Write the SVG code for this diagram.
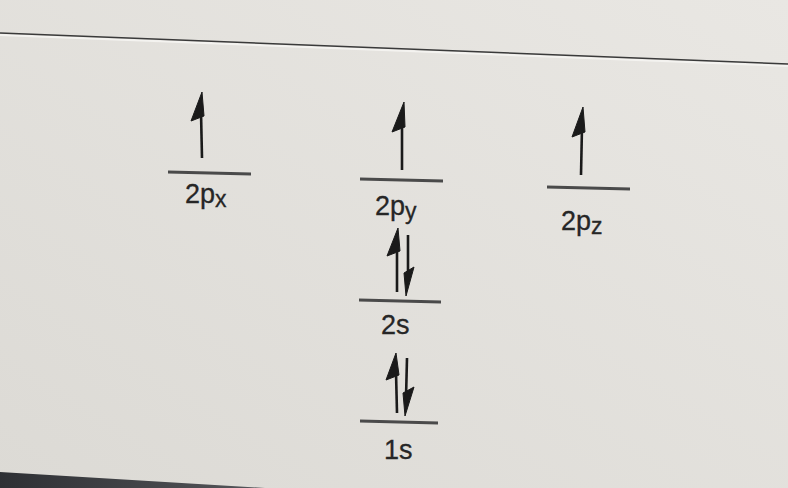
<svg xmlns="http://www.w3.org/2000/svg" width="788" height="488" viewBox="0 0 788 488">
  <defs>
    <linearGradient id="bg" x1="0" y1="1" x2="1" y2="0">
      <stop offset="0" stop-color="#dcdad5"/>
      <stop offset="1" stop-color="#e9e7e3"/>
    </linearGradient>
    <linearGradient id="bezel" x1="0" y1="0" x2="1" y2="0">
      <stop offset="0" stop-color="#2e3034"/>
      <stop offset="1" stop-color="#55565a"/>
    </linearGradient>
  </defs>
  <style>
    .level { stroke: #4a4a4a; stroke-width: 3; fill: none; stroke-linecap: butt; }
    .shaft { stroke: #1a1a1a; stroke-width: 2.6; fill: none; }
    .head { fill: #1a1a1a; stroke: #1a1a1a; stroke-width: 1; stroke-linejoin: round; }
    .lbl { font-family: "Liberation Sans", Arial, sans-serif; font-size: 27px; fill: #262626; stroke: #262626; stroke-width: 0.3; }
    .sub { font-size: 23px; }
  </style>

  <rect x="0" y="0" width="788" height="488" fill="url(#bg)"/>
  <!-- screen edge line -->
  <line x1="0" y1="33" x2="788" y2="64" stroke="#f4f3f0" stroke-width="2" transform="translate(0,2)"/>
  <line x1="0" y1="33" x2="788" y2="64" stroke="#3a3a3a" stroke-width="1.6"/>
  <!-- bezel -->
  <polygon points="0,472 265,488 0,488" fill="url(#bezel)"/>

  <g id="orbital-2px">
    <line class="level" x1="168" y1="172" x2="251" y2="174"/>
    <line class="shaft" x1="202" y1="158" x2="201" y2="112"/>
    <polygon class="head" points="202,92 191,121 204,116"/>
    <text class="lbl" x="185" y="203">2p<tspan class="sub" dy="4">x</tspan></text>
  </g>

  <g id="orbital-2py">
    <line class="level" x1="360" y1="179" x2="443" y2="181"/>
    <line class="shaft" x1="402" y1="170" x2="402" y2="122"/>
    <polygon class="head" points="404,102 392,132 405,127"/>
    <text class="lbl" x="375" y="215">2p<tspan class="sub" dy="4">y</tspan></text>
  </g>

  <g id="orbital-2pz">
    <line class="level" x1="547" y1="187" x2="630" y2="189"/>
    <line class="shaft" x1="581" y1="175" x2="582" y2="127"/>
    <polygon class="head" points="583,107 572,137 585,132"/>
    <text class="lbl" x="561" y="230">2p<tspan class="sub" dy="4">z</tspan></text>
  </g>

  <g id="orbital-2s">
    <line class="level" x1="359" y1="300" x2="441" y2="302"/>
    <line class="shaft" x1="397" y1="292" x2="397" y2="247"/>
    <polygon class="head" points="398,228 387,256 400,251"/>
    <line class="shaft" x1="408" y1="235" x2="408" y2="278"/>
    <polygon class="head" points="406,296 414,267 404,273"/>
    <text class="lbl" x="381" y="334">2s</text>
  </g>

  <g id="orbital-1s">
    <line class="level" x1="360" y1="421" x2="438" y2="423"/>
    <line class="shaft" x1="397" y1="413" x2="396" y2="372"/>
    <polygon class="head" points="396,353 386,380 399,375"/>
    <line class="shaft" x1="407" y1="358" x2="406" y2="398"/>
    <polygon class="head" points="405,416 414,387 403,393"/>
    <text class="lbl" x="384" y="459">1s</text>
  </g>
</svg>
